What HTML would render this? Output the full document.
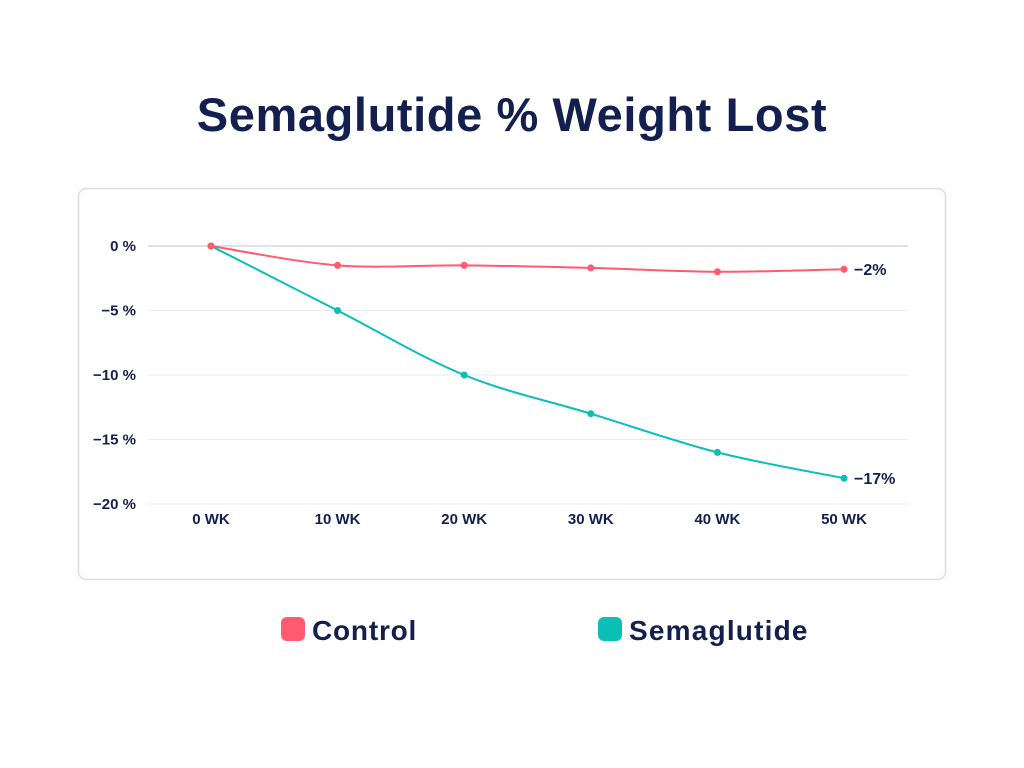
<!DOCTYPE html>
<html><head><meta charset="utf-8"><style>
html,body{margin:0;padding:0;background:#fff;width:1024px;height:768px;overflow:hidden;font-family:"Liberation Sans",sans-serif}
</style></head><body>
<svg id="chart" width="1024" height="768" xmlns="http://www.w3.org/2000/svg">
<text x="512" y="131" text-anchor="middle" font-size="47" font-weight="bold" letter-spacing="0.6" fill="#13204f">Semaglutide % Weight Lost</text>
<rect x="78.5" y="188.5" width="867" height="391" rx="8" fill="#fff" stroke="#dddde2" stroke-width="1.5"/>
<g id="grid"></g><g id="axes"></g><g id="series"></g><g id="labels"></g>
<g>
<g><rect x="281" y="617" width="24" height="24" rx="6" fill="#ff5a6e"/><text x="312" y="640" font-size="28" font-weight="bold" letter-spacing="0.8" fill="#13204f">Control</text></g>
<g><rect x="598" y="617" width="24" height="24" rx="6" fill="#0abfb6"/><text x="629" y="640" font-size="28" font-weight="bold" letter-spacing="1.2" fill="#13204f">Semaglutide</text></g>
</g>
</svg>
<script>
const categories=["0 WK","10 WK","20 WK","30 WK","40 WK","50 WK"];
const controlValues=[0,-1.5,-1.5,-1.7,-2.0,-1.8];
const semaValues=[0,-5,-10,-13,-16,-18];
const yTicks=[0,-5,-10,-15,-20];
const yTickLabels=["0 %","-5 %","-10 %","-15 %","-20 %"];
const endLabels=["-2%","-17%"];
const NS="http://www.w3.org/2000/svg";
function xs(i){return 211+i*126.6;}
function ys(v){return 246-v*(258/20);}
function mk(tag,attrs,parent){const e=document.createElementNS(NS,tag);for(const k in attrs)e.setAttribute(k,attrs[k]);parent.appendChild(e);return e;}
const grid=document.getElementById('grid'),axes=document.getElementById('axes'),ser=document.getElementById('series'),lab=document.getElementById('labels');
yTicks.forEach((t,i)=>{
 const l=mk('line',{x1:148,x2:908,y1:ys(t),y2:ys(t),stroke:t===0?'#c4c2d4':'#ebebef','stroke-width':1},grid);
 
 
 const tx=mk('text',{x:136,y:ys(t)+5,'text-anchor':'end','font-size':15,'font-weight':'bold',fill:'#13204f'},axes);
 tx.textContent=yTickLabels[i].replace('-','\u2212');
 
 
});
categories.forEach((c,i)=>{
 const tx=mk('text',{x:xs(i),y:524,'text-anchor':'middle','font-size':15,'font-weight':'bold',fill:'#13204f'},axes);
 tx.textContent=c;
 
 
});
function path(vals){const p=vals.map((v,i)=>[xs(i),ys(v)]);let d='M'+p[0][0]+','+p[0][1];
 for(let i=0;i<p.length-1;i++){const p0=p[i-1]||p[i],p1=p[i],p2=p[i+1],p3=p[i+2]||p2;const k=1/6;
  d+=' C'+(p1[0]+(p2[0]-p0[0])*k)+','+(p1[1]+(p2[1]-p0[1])*k)+' '+(p2[0]-(p3[0]-p1[0])*k)+','+(p2[1]-(p3[1]-p1[1])*k)+' '+p2[0]+','+p2[1];}
 return d;}
[[semaValues,'#0abfb6','semaglutide'],[controlValues,'#ff5a6e','control']].forEach(([vals,col,name],si)=>{
 const pth=mk('path',{d:path(vals),fill:'none',stroke:col,'stroke-width':2},ser);
 
 
 vals.forEach((v,i)=>{const c=mk('circle',{cx:xs(i),cy:ys(v),r:3.5,fill:col},ser);
  
  });
 const last=vals.length-1;
 const t=mk('text',{x:xs(last)+10,y:ys(vals[last])+6,'font-size':16,'font-weight':'bold',fill:'#13204f'},lab);
 t.textContent=(name==='control'?endLabels[0]:endLabels[1]).replace('-','\u2212');
 
 
});
</script>
</body></html>
